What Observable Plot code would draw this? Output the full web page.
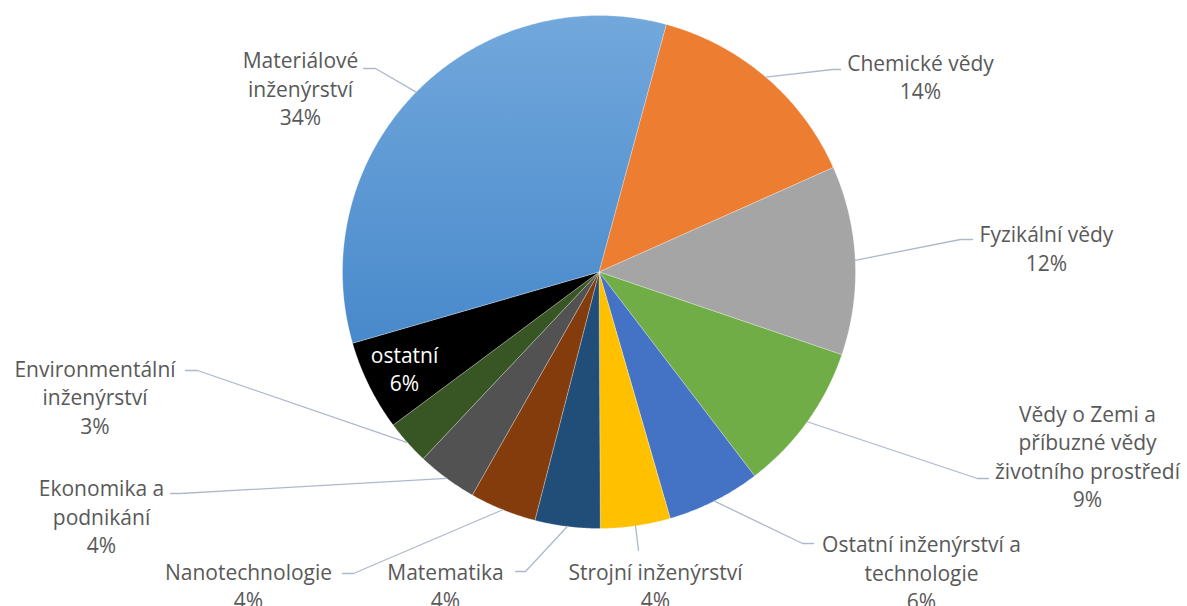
<!DOCTYPE html>
<html>
<head>
<meta charset="utf-8">
<script src="https://cdn.jsdelivr.net/npm/d3@7"></script>
<script src="https://cdn.jsdelivr.net/npm/@observablehq/plot@0.6"></script>
<style>
  html, body { margin: 0; padding: 0; background: #ffffff; }
  #chart svg { display: block; }
</style>
</head>
<body>
<div id="chart"></div>
<script>
// ---- data (clockwise from the first slice) ----
const categories = [
  "Chemické vědy", "Fyzikální vědy",
  "Vědy o Zemi a příbuzné vědy životního prostředí",
  "Ostatní inženýrství a technologie", "Strojní inženýrství", "Matematika",
  "Nanotechnologie", "Ekonomika a podnikání", "Environmentální inženýrství",
  "ostatní", "Materiálové inženýrství"
];
const values = [14.1, 11.9, 9.4, 5.9, 4.4, 4.1, 4.2, 3.8, 2.8, 5.7, 33.7];
const percentLabels = ["14%", "12%", "9%", "6%", "4%", "4%", "4%", "4%", "3%", "6%", "34%"];
const labelLines = [
  ["Chemické vědy"], ["Fyzikální vědy"],
  ["Vědy o Zemi a", "příbuzné vědy", "životního prostředí"],
  ["Ostatní inženýrství a", "technologie"], ["Strojní inženýrství"], ["Matematika"],
  ["Nanotechnologie"], ["Ekonomika a", "podnikání"], ["Environmentální", "inženýrství"],
  ["ostatní"], ["Materiálové", "inženýrství"]
];
const colors = ["#ed7d31", "#a5a5a5", "#70ad47", "#4472c4", "#ffc000", "#204e79",
  "#843c0c", "#525252", "#375623", "#000000", "url(#matGrad)"];

// ---- layout (in pie-radius units) ----
const firstSliceAngle = 15.2; // degrees clockwise from 12 o'clock
const labelPos = [
  [1.2534, 0.7641], [1.7446, 0.0955], [1.9045, -0.7154], [1.2573, -1.1676],
  [0.2203, -1.2203], [-0.5984, -1.2203], [-1.3665, -1.2203], [-1.9396, -0.9493],
  [-1.9649, -0.4834], [-0.7583, -0.3743], [-1.1637, 0.7193]
];
const leaderElbow = [
  [[0.9103, 0.7895], [0.9415, 0.7895]],
  [[1.4094, 0.1267], [1.4561, 0.1267]],
  [[1.4756, -0.8051], [1.5185, -0.8051]],
  [[0.7934, -1.0585], [0.8363, -1.0585]],
  [[0.1540, -1.0858], [0.1540, -1.0858]],
  [[-0.2865, -1.1676], [-0.3255, -1.1676]],
  [[-0.9571, -1.1754], [-1.0000, -1.1754]],
  [[-1.6316, -0.8635], [-1.6706, -0.8635]],
  [[-1.5653, -0.3840], [-1.6121, -0.3840]],
  null,
  [[-0.8713, 0.7934], [-0.9181, 0.7934]]
];

// ---- derived geometry ----
const total = d3.sum(values);
let acc = firstSliceAngle;
const slices = values.map((v, i) => {
  const a0 = acc, a1 = acc + v / total * 360;
  acc = a1;
  const pts = [{x: 0, y: 0}];
  const n = Math.max(2, Math.ceil((a1 - a0) / 0.5));
  for (let k = 0; k <= n; k++) {
    const a = (a0 + (a1 - a0) * k / n) * Math.PI / 180;
    pts.push({x: Math.sin(a), y: Math.cos(a)});
  }
  pts.push({x: 0, y: 0});
  const am = ((a0 + a1) / 2) * Math.PI / 180;
  return {i, a0, a1, pts, mid: {x: Math.sin(am), y: Math.cos(am)}};
});

const leaders = [];
slices.forEach((s, i) => {
  if (!leaderElbow[i]) return;
  leaders.push({i, x: s.mid.x, y: s.mid.y});
  leaders.push({i, x: leaderElbow[i][0][0], y: leaderElbow[i][0][1]});
  leaders.push({i, x: leaderElbow[i][1][0], y: leaderElbow[i][1][1]});
});

const labels = categories.map((c, i) => ({
  text: labelLines[i].concat([percentLabels[i]]).join("\n"),
  x: labelPos[i][0], y: labelPos[i][1],
  inside: i === 9
}));

const marks = slices.map((s, i) => Plot.line(s.pts, {
  x: "x", y: "y", fill: colors[i], stroke: "#ffffff", strokeOpacity: 0.35, strokeWidth: 0.8,
  curve: "linear-closed"
}));
marks.push(Plot.line(leaders, {x: "x", y: "y", z: "i", stroke: "#adb9ca", strokeWidth: 1.3}));
marks.push(Plot.text(labels.filter(d => !d.inside), {
  x: "x", y: "y", text: "text", fill: "#595959", fontSize: 21, lineHeight: 1.36,
  textAnchor: "middle", lineAnchor: "middle"
}));
marks.push(Plot.text(labels.filter(d => d.inside), {
  x: "x", y: "y", text: "text", fill: "#ffffff", fontSize: 21, lineHeight: 1.36,
  textAnchor: "middle", lineAnchor: "middle"
}));

const svg = Plot.plot({
  width: 1187, height: 606,
  margin: 0,
  style: {fontFamily: "'Open Sans', sans-serif", background: "#ffffff"},
  x: {domain: [-1, 1], range: [342, 855], axis: null},
  y: {domain: [-1, 1], range: [528, 15], axis: null},
  marks
});

const defs = d3.select(svg).insert("defs", ":first-child");
const g = defs.append("linearGradient").attr("id", "matGrad")
  .attr("x1", 0).attr("y1", 0).attr("x2", 0).attr("y2", 1);
g.append("stop").attr("offset", "0%").attr("stop-color", "#72a8dc");
g.append("stop").attr("offset", "100%").attr("stop-color", "#4889cb");

document.getElementById("chart").appendChild(svg);
</script>
</body>
</html>
